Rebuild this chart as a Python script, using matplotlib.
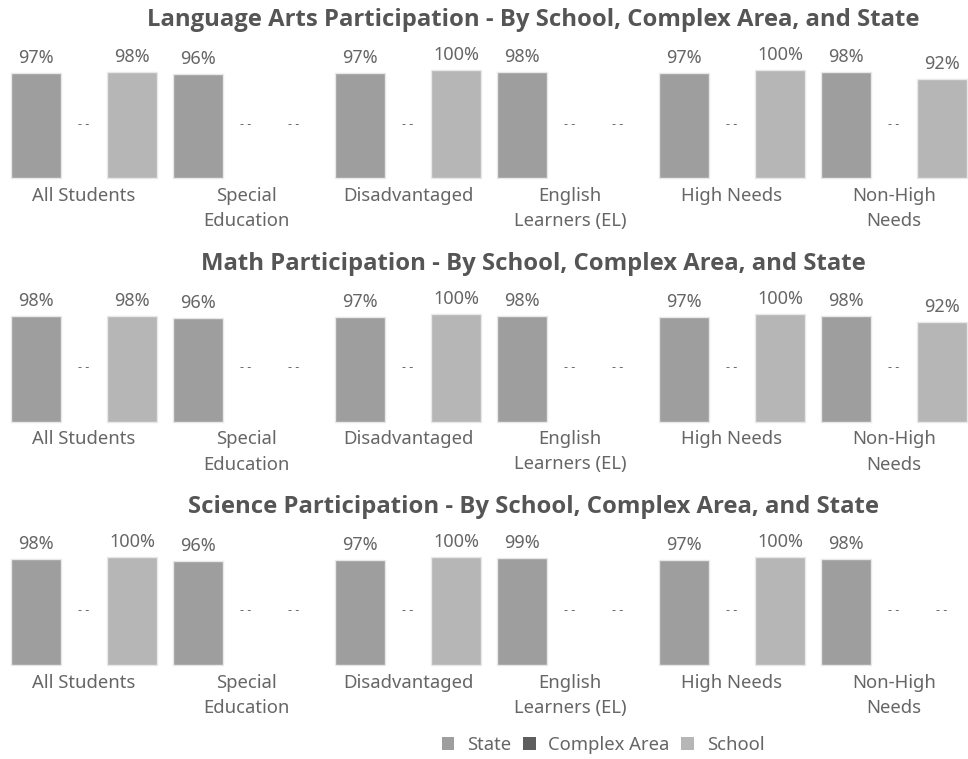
import matplotlib
matplotlib.use("Agg")
import matplotlib.pyplot as plt
from matplotlib.patches import Patch
import numpy as np

plt.rcParams['font.family'] = ['Noto Sans', 'DejaVu Sans']

categories = ["All Students", "Special\nEducation", "Disadvantaged",
              "English\nLearners (EL)", "High Needs", "Non-High\nNeeds"]
series_names = ["State", "Complex Area", "School"]

titles = ["Language Arts Participation - By School, Complex Area, and State",
          "Math Participation - By School, Complex Area, and State",
          "Science Participation - By School, Complex Area, and State"]

# values per panel: [State, Complex Area, School] for each category (None = "--")
lang_state = [97, 96, 97, 98, 97, 98]
lang_complex = [None, None, None, None, None, None]
lang_school = [98, None, 100, None, 100, 92]

math_state = [98, 96, 97, 98, 97, 98]
math_complex = [None, None, None, None, None, None]
math_school = [98, None, 100, None, 100, 92]

sci_state = [98, 96, 97, 99, 97, 98]
sci_complex = [None, None, None, None, None, None]
sci_school = [100, None, 100, None, 100, None]

panels = [
    (lang_state, lang_complex, lang_school),
    (math_state, math_complex, math_school),
    (sci_state, sci_complex, sci_school),
]

colors = ["#9e9e9e", "#5e5e5e", "#b6b6b6"]
text_color = "#666666"
title_color = "#555555"

W, H = 968, 759
fig = plt.figure(figsize=(W / 100, H / 100), dpi=100)

group_px = 162.0
slot = 48.0 / group_px
bar_w = 50.0 / group_px
x0_px = 84.0

for k, series in enumerate(panels):
    dy = 243.5 * k
    top_px = 70 + dy
    bot_px = 178 + dy
    ax = fig.add_axes([0, 1 - bot_px / H, 1, (bot_px - top_px) / H])
    ax.set_xlim(-x0_px / group_px, (W - x0_px) / group_px)
    ax.set_ylim(0, 100)
    ax.axis('off')
    x = np.arange(len(categories))
    for s, vals in enumerate(series):
        xs = x + (s - 1) * slot
        for xi, v in zip(xs, vals):
            if v is None:
                ax.text(xi, 50, "- -", ha='center', va='center',
                        fontsize=9, color=text_color)
            else:
                ax.bar(xi, v, width=bar_w, color=colors[s],
                       edgecolor="#e8e8e8", linewidth=1.0, clip_on=False)
                ax.annotate(f"{v}%", (xi, v), xytext=(0, 15),
                            textcoords='offset pixels', ha='center',
                            va='center', fontsize=13, color=text_color,
                            annotation_clip=False)
    for xi, c in zip(x, categories):
        ax.annotate(c, (xi, 0), xytext=(0, -9), textcoords='offset pixels',
                    ha='center', va='top', fontsize=13.3, color=text_color,
                    linespacing=1.5, annotation_clip=False)
    fig.text(533 / W, 1 - (20 + dy) / H, titles[k], ha='center', va='center',
             fontsize=17.2, fontweight='bold', color=title_color,
             family=['Open Sans', 'DejaVu Sans'])

handles = [Patch(facecolor=colors[i], edgecolor='none', label=series_names[i])
           for i in range(3)]
fig.legend(handles=handles, loc='center', bbox_to_anchor=(603 / W, 1 - 745 / H),
           ncol=3, frameon=False, fontsize=13.3, handlelength=0.7,
           handleheight=0.7, handletextpad=0.7, columnspacing=0.6,
           labelcolor=text_color)

fig.savefig("out.png", dpi=100)
